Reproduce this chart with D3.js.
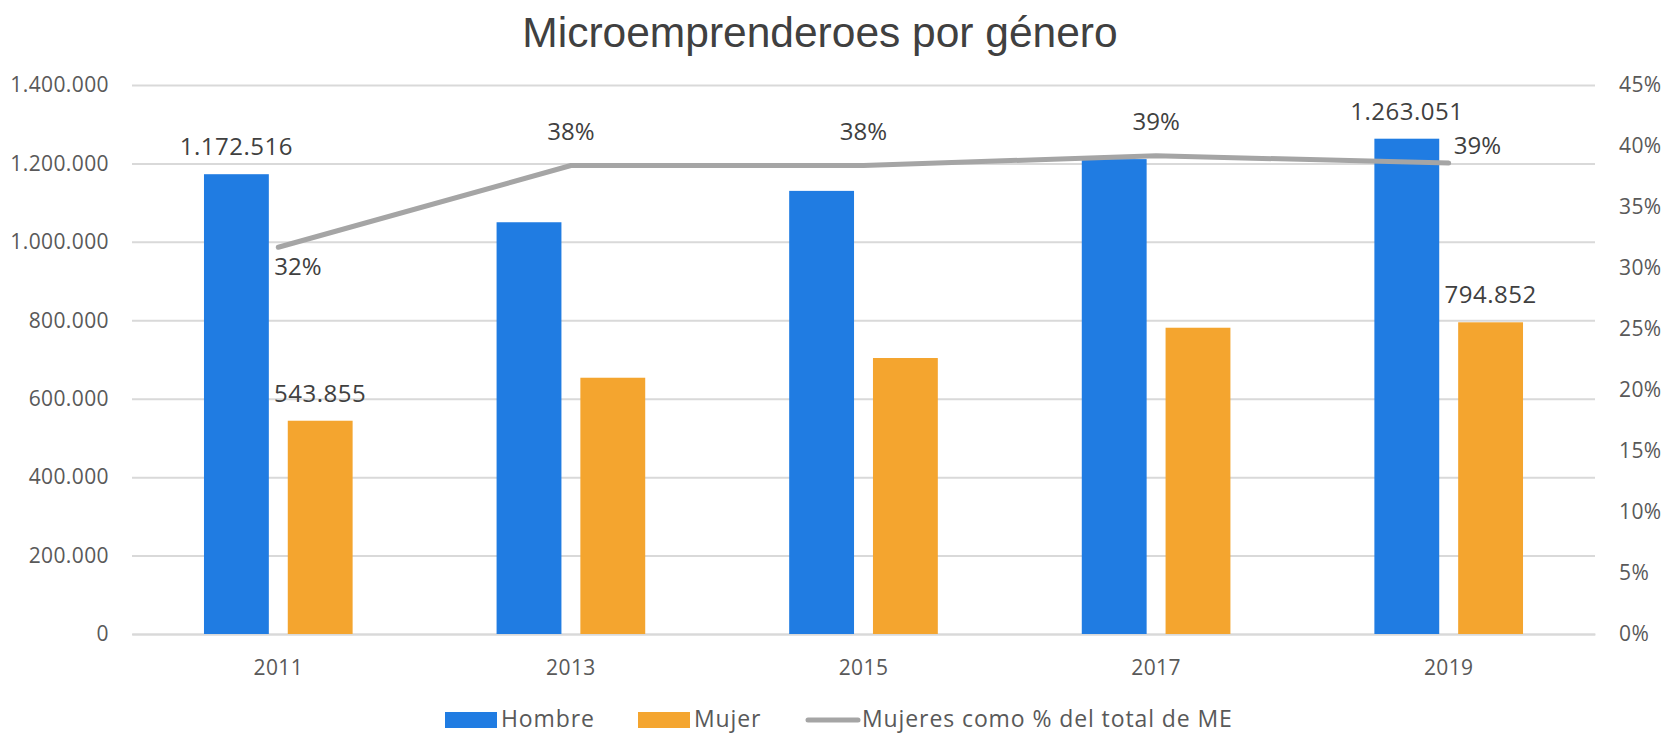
<!DOCTYPE html>
<html>
<head>
<meta charset="utf-8">
<script src="https://cdn.jsdelivr.net/npm/d3@7"></script>
<style>
  body { margin: 0; background: #fff; }
  #chart text { font-family: "Open Sans", sans-serif; }
</style>
</head>
<body>
<div id="chart"></div>
<script>
// data
const years = ["2011", "2013", "2015", "2017", "2019"];
const series = ["Hombre", "Mujer"];
const hombre = [1172516, 1050000, 1130000, 1211000, 1263051];
const mujer = [543855, 653500, 703800, 781000, 794852];
const mujeresPct = [0.317, 0.384, 0.384, 0.392, 0.386];
const leftTicks = [0, 200000, 400000, 600000, 800000, 1000000, 1200000, 1400000];
const rightTicks = [0, 0.05, 0.10, 0.15, 0.20, 0.25, 0.30, 0.35, 0.40, 0.45];
const labelledBars = ["2011", "2019"];
const pctLabelPos = ["below", "above", "above", "above", "right"];
const lineName = "Mujeres como % del total de ME";

class MicroChart {
    constructor(_config){
        this.config = {
            parentElement: _config.parentElement,
            containerWidth: _config.containerWidth || 1662,
            containerHeight: _config.containerHeight || 734,
            margin: _config.margin || {top: 85, right: 67, bottom: 100, left: 132}
        }
        this.colors = {Hombre: "#207ce2", Mujer: "#f4a52f", line: "#a5a5a5", grid: "#d9d9d9"};
        this.initVis();
    }

    initVis(){
        let vis = this;
        vis.width = vis.config.containerWidth - vis.config.margin.left - vis.config.margin.right;
        vis.height = vis.config.containerHeight - vis.config.margin.top - vis.config.margin.bottom;

        vis.root = d3.select(vis.config.parentElement)
            .append("svg")
            .attr("width", vis.config.containerWidth)
            .attr("height", vis.config.containerHeight);

        vis.svg = vis.root.append("g")
            .attr("transform", `translate(${vis.config.margin.left},${vis.config.margin.top})`);

        vis.xScale = d3.scaleBand().domain(years).range([0, vis.width]);
        let bw = vis.xScale.bandwidth();
        vis.xSub = d3.scaleBand().domain(series)
            .range([bw * 0.246, bw * 0.754])
            .paddingInner(0.226);

        vis.yScale = d3.scaleLinear().domain([0, 1400000]).range([vis.height, 0]);
        vis.yPct = d3.scaleLinear().domain([0, 0.45]).range([vis.height, 0]);

        // dots as thousands separator
        vis.fmt = d3.formatLocale({decimal: ",", thousands: ".", grouping: [3], currency: ["", ""]}).format(",d");
        vis.pctFmt = d3.format(".0%");

        vis.renderVis();
    }

    renderVis(){
        let vis = this;

        // title
        vis.root.append("text")
            .attr("x", 820)
            .attr("y", 47)
            .attr("text-anchor", "middle")
            .style("font-family", "'Liberation Sans', Arial, sans-serif")
            .style("font-size", "42.5px")
            .style("fill", "#404040")
            .text("Microemprenderoes por género");

        // gridlines + left axis
        let yAxis = vis.svg.append("g")
            .call(d3.axisLeft(vis.yScale).tickValues(leftTicks).tickFormat(vis.fmt).tickSize(-vis.width).tickPadding(23));
        yAxis.select(".domain").remove();
        yAxis.selectAll("line").attr("stroke", vis.colors.grid).attr("stroke-width", 2);
        yAxis.selectAll("text").style("font-size", "21px").style("letter-spacing", "0.4px").style("fill", "#595959");

        // right axis
        let yAxisR = vis.svg.append("g")
            .attr("transform", `translate(${vis.width},0)`)
            .call(d3.axisRight(vis.yPct).tickValues(rightTicks).tickFormat(vis.pctFmt).tickSize(0).tickPadding(24));
        yAxisR.select(".domain").remove();
        yAxisR.selectAll("text").style("font-size", "21px").style("letter-spacing", "0.4px").style("fill", "#595959");

        // x axis
        let xAxis = vis.svg.append("g")
            .attr("transform", `translate(0,${vis.height})`)
            .call(d3.axisBottom(vis.xScale).tickSize(0).tickPadding(26));
        xAxis.select(".domain").attr("stroke", vis.colors.grid).attr("stroke-width", 2);
        xAxis.selectAll("text").style("font-size", "21px").style("letter-spacing", "0.4px").style("fill", "#595959");

        let rows = years.map((y, i) => ({year: y, Hombre: hombre[i], Mujer: mujer[i], pct: mujeresPct[i], pos: pctLabelPos[i]}));

        // bars
        let groups = vis.svg.append("g")
            .selectAll("g")
            .data(rows)
            .join("g")
            .attr("transform", d => `translate(${vis.xScale(d.year)},0)`);

        groups.selectAll("rect")
            .data(d => series.map(s => ({key: s, value: d[s], year: d.year})))
            .join("rect")
            .attr("x", d => vis.xSub(d.key))
            .attr("width", vis.xSub.bandwidth())
            .attr("y", d => vis.yScale(d.value))
            .attr("height", d => vis.height - vis.yScale(d.value))
            .attr("fill", d => vis.colors[d.key]);

        groups.selectAll("text.val")
            .data(d => labelledBars.includes(d.year) ? series.map(s => ({key: s, value: d[s]})) : [])
            .join("text")
            .attr("class", "val")
            .attr("x", d => vis.xSub(d.key) + vis.xSub.bandwidth() / 2)
            .attr("y", d => vis.yScale(d.value) - 19)
            .attr("text-anchor", "middle")
            .style("font-size", "24px")
            .style("letter-spacing", "0.5px")
            .style("fill", "#404040")
            .text(d => vis.fmt(d.value));

        // line
        let cx = d => vis.xScale(d.year) + vis.xScale.bandwidth() / 2;
        let line = d3.line().x(cx).y(d => vis.yPct(d.pct));
        vis.svg.append("path")
            .datum(rows)
            .attr("d", line)
            .attr("fill", "none")
            .attr("stroke", vis.colors.line)
            .attr("stroke-width", 5)
            .attr("stroke-linecap", "round")
            .attr("stroke-linejoin", "round");

        vis.svg.append("g")
            .selectAll("text")
            .data(rows)
            .join("text")
            .attr("x", d => d.pos == "below" ? cx(d) - 4 : d.pos == "right" ? cx(d) + 5 : cx(d))
            .attr("y", d => d.pos == "below" ? vis.yPct(d.pct) + 28 : d.pos == "right" ? vis.yPct(d.pct) - 9 : vis.yPct(d.pct) - 26)
            .attr("text-anchor", d => d.pos == "above" ? "middle" : "start")
            .style("font-size", "24px")
            .style("fill", "#404040")
            .text(d => vis.pctFmt(d.pct));

        // legend
        let legend = vis.root.append("g").attr("transform", "translate(445,719)");
        let items = [
            {name: "Hombre", type: "rect", color: vis.colors.Hombre, x: 0},
            {name: "Mujer", type: "rect", color: vis.colors.Mujer, x: 193},
            {name: lineName, type: "line", color: vis.colors.line, x: 361}
        ];
        let li = legend.selectAll("g").data(items).join("g")
            .attr("transform", d => `translate(${d.x},0)`);
        li.filter(d => d.type == "rect").append("rect")
            .attr("x", 0).attr("y", -7).attr("width", 52).attr("height", 16)
            .attr("fill", d => d.color);
        li.filter(d => d.type == "line").append("line")
            .attr("x1", 2).attr("x2", 52).attr("y1", 1).attr("y2", 1)
            .attr("stroke", d => d.color).attr("stroke-width", 5).attr("stroke-linecap", "round");
        li.append("text")
            .attr("x", 56)
            .attr("y", 8)
            .style("font-size", "23px")
            .style("letter-spacing", "0.9px")
            .style("fill", "#595959")
            .text(d => d.name);
    }
}

new MicroChart({parentElement: "#chart"});
</script>
</body>
</html>
